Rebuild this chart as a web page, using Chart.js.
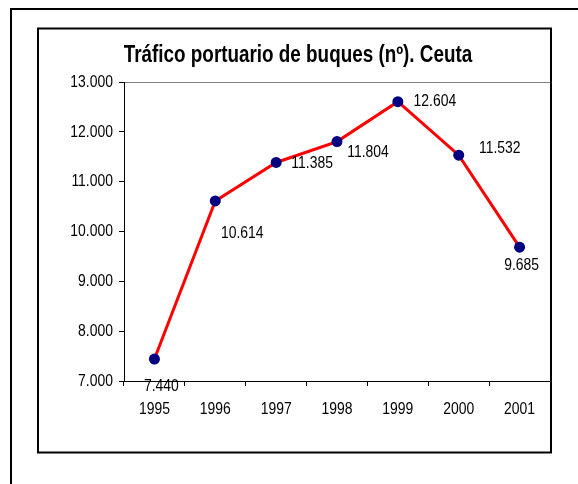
<!DOCTYPE html>
<html>
<head>
<meta charset="utf-8">
<title>Tráfico portuario de buques</title>
<script src="https://cdn.jsdelivr.net/npm/chart.js@4.4.1/dist/chart.umd.min.js"></script>
<style>
  html, body { margin: 0; padding: 0; background: #fff; }
  canvas { display: block; }
</style>
</head>
<body>
<canvas id="chart" width="578" height="484"></canvas>
<script>
const years = ["1995", "1996", "1997", "1998", "1999", "2000", "2001"];
const buques = [7440, 10614, 11385, 11804, 12604, 11532, 9685];
const yTicks = [7000, 8000, 9000, 10000, 11000, 12000, 13000];
const chartTitle = "Tráfico portuario de buques (nº). Ceuta";

// where each value label sits relative to its point (px)
const labelOffsets = [[7, 27], [27, 32], [36, 1], [31, 11], [37, 0], [41, -7], [2, 18]];

const fontFamily = "Arial, 'Liberation Sans', sans-serif";
const squeeze = 0.82; // the original text is horizontally compressed

function fmt(v) {
  return String(v).replace(/\B(?=(\d{3})+(?!\d))/g, ".");
}

function narrowText(ctx, text, x, y) {
  ctx.save();
  ctx.translate(x, y);
  ctx.scale(squeeze, 1);
  ctx.fillText(text, 0, 0);
  ctx.restore();
}

// frames around the chart, like the pasted Excel object
const framePlugin = {
  id: "frames",
  beforeDraw(chart) {
    const ctx = chart.ctx;
    ctx.save();
    ctx.fillStyle = "#fff";
    ctx.fillRect(0, 0, chart.width, chart.height);
    ctx.strokeStyle = "#000";
    ctx.lineWidth = 2;
    ctx.beginPath();
    ctx.moveTo(11, 484);
    ctx.lineTo(11, 9);
    ctx.lineTo(578, 9);
    ctx.stroke();
    ctx.strokeRect(38, 28.5, 513, 424);
    ctx.restore();
  }
};

// title, tick labels and value labels in the squeezed Excel look
const textPlugin = {
  id: "narrowText",
  afterDatasetsDraw(chart) {
    const ctx = chart.ctx;
    const xs = chart.scales.x;
    const ys = chart.scales.y;
    ctx.save();
    ctx.fillStyle = "#000";
    ctx.textBaseline = "middle";

    ctx.font = "bold 23px " + fontFamily;
    ctx.textAlign = "center";
    narrowText(ctx, chartTitle, 298, 56);

    ctx.font = "17px " + fontFamily;
    ctx.textAlign = "right";
    yTicks.forEach(v => narrowText(ctx, fmt(v), ys.left + ys.width - 11, ys.getPixelForValue(v)));

    ctx.textAlign = "center";
    years.forEach((y, i) => narrowText(ctx, y, xs.getPixelForValue(i), xs.top + 28));

    const meta = chart.getDatasetMeta(0);
    meta.data.forEach((pt, i) => {
      const [dx, dy] = labelOffsets[i];
      narrowText(ctx, fmt(buques[i]), pt.x + dx, pt.y + dy);
    });
    ctx.restore();
  }
};

new Chart(document.getElementById("chart"), {
  type: "line",
  data: {
    labels: years,
    datasets: [{
      data: buques,
      borderColor: "#ff0000",
      borderWidth: 3,
      backgroundColor: "#000080",
      pointBackgroundColor: "#000080",
      pointBorderColor: "#000080",
      pointRadius: 5.5,
      pointBorderWidth: 0,
      tension: 0,
      fill: false
    }]
  },
  options: {
    responsive: false,
    animation: false,
    devicePixelRatio: 1,
    layout: { padding: { left: 38, right: 28, top: 82, bottom: 63 } },
    plugins: {
      legend: { display: false },
      tooltip: { enabled: false },
      title: { display: false }
    },
    scales: {
      x: {
        offset: true,
        grid: {
          offset: true,
          color: "transparent",
          tickColor: "#000",
          tickLength: 5,
          drawTicks: true
        },
        border: { color: "#000", width: 1 },
        ticks: { display: false },
        afterFit(scale) { scale.height = 40; }
      },
      y: {
        min: 7000,
        max: 13000,
        afterBuildTicks(scale) {
          scale.ticks = yTicks.map(v => ({ value: v }));
        },
        grid: {
          color: (c) => (c.tick && c.tick.value === 13000 ? "#808080" : "transparent"),
          tickColor: "#000",
          tickLength: 5,
          lineWidth: 1
        },
        border: { color: "#000", width: 1 },
        ticks: { display: false },
        afterFit(scale) { scale.width = 86; }
      }
    }
  },
  plugins: [framePlugin, textPlugin]
});
</script>
</body>
</html>
